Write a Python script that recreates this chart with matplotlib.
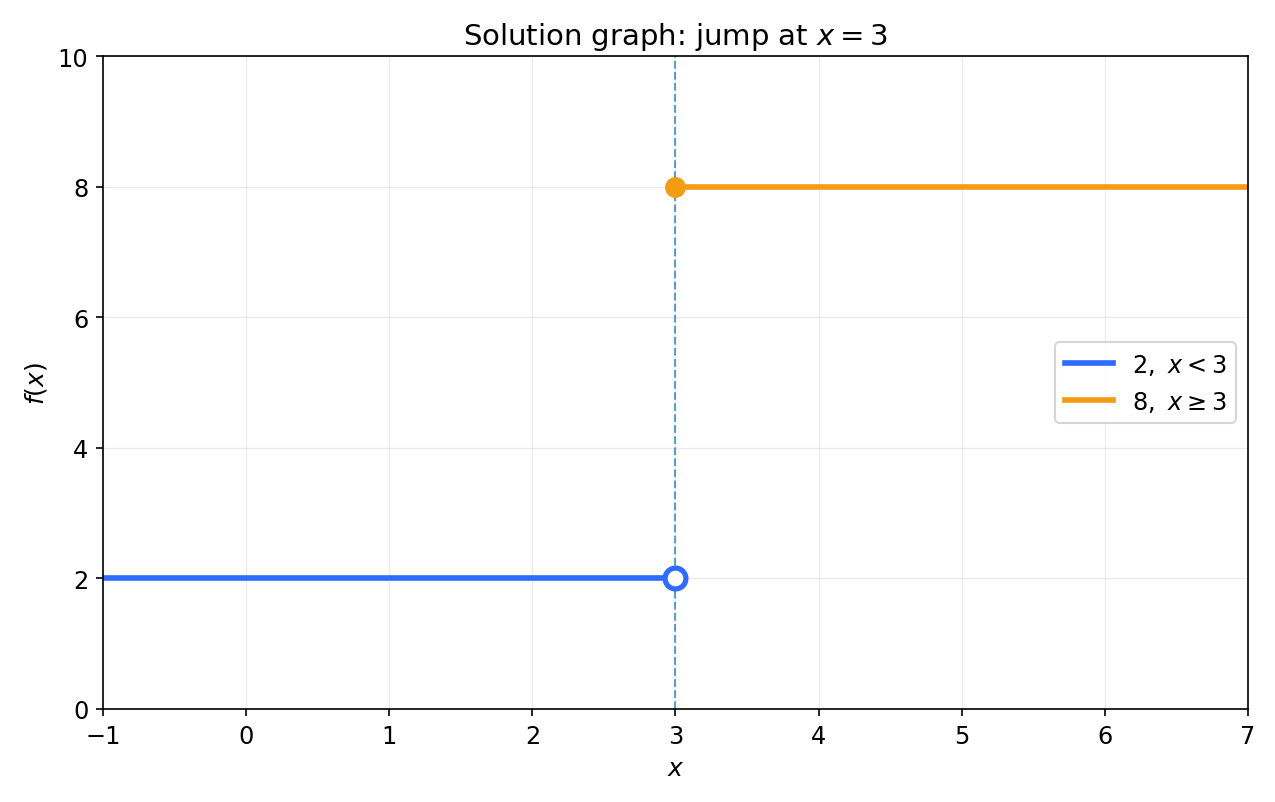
import matplotlib
matplotlib.use("Agg")
import matplotlib.pyplot as plt

# piecewise data
x_left = [-1, 3]
y_left = [2, 2]
x_right = [3, 7]
y_right = [8, 8]
jump_x = 3
open_pt = (3, 2)
closed_pt = (3, 8)

blue = '#2f6bff'
orange = '#f39c12'

fig = plt.figure(figsize=(8.5, 5.353), dpi=150)
ax = fig.add_axes([0.0808, 0.1158, 0.898, 0.813])

ax.plot(x_left, y_left, color=blue, lw=2.7, label=r'$2,\ x<3$')
ax.plot(x_right, y_right, color=orange, lw=2.7, label=r'$8,\ x\geq 3$')
ax.axvline(jump_x, color='tab:blue', ls='--', lw=1, alpha=0.7)
ax.plot(*open_pt, 'o', ms=10, mfc='white', mec=blue, mew=2.5, zorder=5)
ax.plot(*closed_pt, 'o', ms=9, color=orange, zorder=5)

ax.set_xlim(-1, 7)
ax.set_ylim(0, 10)
ax.tick_params(labelsize=11.5)
ax.grid(True, alpha=0.25, lw=0.6)
ax.set_xlabel('$x$', fontsize=12)
ax.set_ylabel('$f(x)$', fontsize=12)
ax.set_title('Solution graph: jump at $x=3$', fontsize=14)
ax.legend(loc='center right', fontsize=11.5)

fig.savefig('out.png', dpi=150)
